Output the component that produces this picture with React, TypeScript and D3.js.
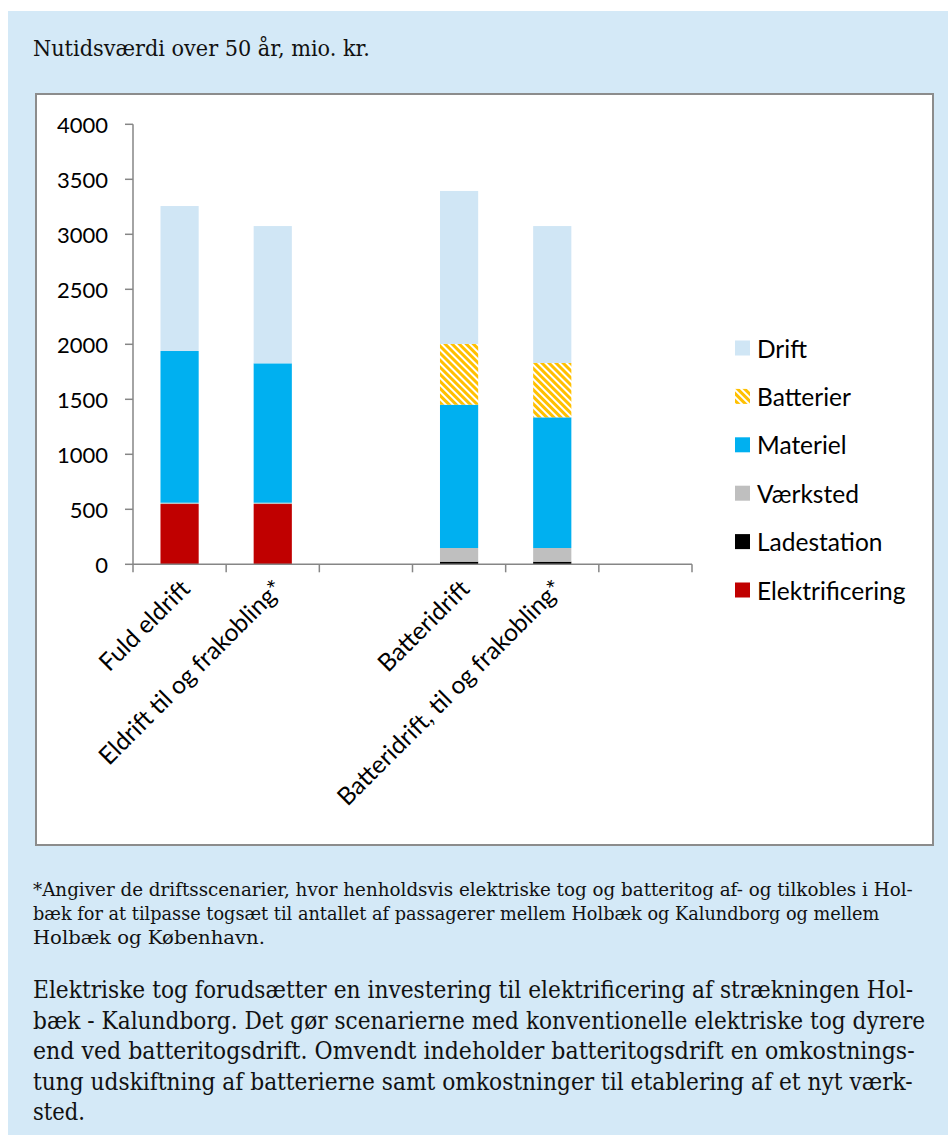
import { useLayoutEffect, useRef, useState } from 'react';
import * as d3 from 'd3';

const categories = [
  'Fuld eldrift',
  'Eldrift til og frakobling*',
  '',
  'Batteridrift',
  'Batteridrift, til og frakobling*',
  '',
];

// stack order, bottom to top
const seriesNames = ['Elektrificering', 'Ladestation', 'Værksted', 'Materiel', 'Batterier', 'Drift'];

const elektrificering = [548, 548, 0, 0, 0, 0];
const ladestation = [0, 0, 0, 24, 24, 0];
const vaerksted = [12, 12, 0, 124, 124, 0];
const materiel = [1379, 1267, 0, 1303, 1188, 0];
const batterier = [0, 0, 0, 552, 494, 0];
const drift = [1318, 1248, 0, 1391, 1245, 0];

const yTicks = [0, 500, 1000, 1500, 2000, 2500, 3000, 3500, 4000];

const title = 'Nutidsværdi over 50 år, mio. kr.';
const footnoteLines = [
  '*Angiver de driftsscenarier, hvor henholdsvis elektriske tog og batteritog af- og tilkobles i Hol-',
  'bæk for at tilpasse togsæt til antallet af passagerer mellem Holbæk og Kalundborg og mellem',
  'Holbæk og København.',
];
const bodyLines = [
  'Elektriske tog forudsætter en investering til elektrificering af strækningen Hol-',
  'bæk - Kalundborg. Det gør scenarierne med konventionelle elektriske tog dyrere',
  'end ved batteritogsdrift. Omvendt indeholder batteritogsdrift en omkostnings-',
  'tung udskiftning af batterierne samt omkostninger til etablering af et nyt værk-',
  'sted.',
];

const W = 948;
const H = 1138;
const BG = '#D4E9F7';
const AXIS = '#868686';
const LABEL_FONT = "Lato, 'Open Sans', sans-serif";
const SERIF = "'DejaVu Serif', 'Liberation Serif', serif";

const colors: Record<string, string> = {
  Drift: '#D0E6F5',
  Batterier: 'url(#hatch)',
  Materiel: '#00B0F0',
  Værksted: '#BFBFBF',
  Ladestation: '#000000',
  Elektrificering: '#C00000',
};

// target widths of the text lines (px), to mimic the condensed print face
const titleWidth = 337;
const footnoteWidths = [880, 846, 232];
const bodyWidths = [880, 892, 882, 880, 52];

// serif text squeezed horizontally to a measured width
function FitText({
  x,
  y,
  width,
  fontSize,
  children,
}: {
  x: number;
  y: number;
  width: number;
  fontSize: number;
  children: string;
}) {
  const ref = useRef<SVGTextElement>(null);
  const [sx, setSx] = useState(0.85);

  useLayoutEffect(() => {
    if (!ref.current) return;
    const len = ref.current.getComputedTextLength();
    if (len > 0) setSx(width / len);
  }, [width, children, fontSize]);

  return (
    <text
      ref={ref}
      transform={`translate(${x},${y}) scale(${sx},1)`}
      fontFamily={SERIF}
      fontSize={fontSize}
      fill="#111"
    >
      {children}
    </text>
  );
}

export default function App() {
  const keys = categories.map((_, i) => String(i));
  const values: Record<string, number[]> = {
    Elektrificering: elektrificering,
    Ladestation: ladestation,
    Værksted: vaerksted,
    Materiel: materiel,
    Batterier: batterier,
    Drift: drift,
  };
  const rows = keys.map((k, i) => {
    const row: Record<string, number | string> = { key: k };
    seriesNames.forEach((s) => (row[s] = values[s][i]));
    return row;
  });
  const stacked = d3.stack<Record<string, number | string>>().keys(seriesNames)(rows as any);

  const plot = { left: 133, right: 692, top: 124.3, bottom: 564.3 };

  const x = d3
    .scaleBand<string>()
    .domain(keys)
    .range([plot.left, plot.right])
    .paddingInner(0.59)
    .paddingOuter(0.295);
  const xTick = d3.scaleBand<string>().domain(keys).range([plot.left, plot.right]).padding(0);
  const y = d3.scaleLinear().domain([0, 4000]).range([plot.bottom, plot.top]);

  const legendOrder = [...seriesNames].reverse();

  return (
    <div style={{ position: 'absolute', left: 0, top: 0 }}>
      <svg width={W} height={H} viewBox={`0 0 ${W} ${H}`} style={{ display: 'block' }}>
        <defs>
          <pattern
            id="hatch"
            width={5}
            height={5}
            patternUnits="userSpaceOnUse"
            patternTransform="rotate(-45)"
          >
            <rect width={5} height={5} fill="#FFFFFF" />
            <rect width={3} height={5} fill="#FFC000" />
          </pattern>
        </defs>

        <rect x={0} y={0} width={W} height={H} fill="#FFFFFF" />
        <rect x={8} y={11} width={W - 8} height={1124} fill={BG} />

        <FitText x={33} y={56} width={titleWidth} fontSize={22}>
          {title}
        </FitText>

        {/* chart frame */}
        <rect x={36} y={94} width={897} height={751} fill="#FFFFFF" stroke="#8C8C8C" strokeWidth={2} />

        {/* bars */}
        {stacked.map((layer) => (
          <g key={layer.key} fill={colors[layer.key]}>
            {layer.map((d, i) => {
              const h = y(d[0]) - y(d[1]);
              if (h <= 0) return null;
              return (
                <rect
                  key={i}
                  x={x(keys[i])}
                  y={y(d[1])}
                  width={x.bandwidth()}
                  height={h}
                />
              );
            })}
          </g>
        ))}

        {/* y axis */}
        <line x1={plot.left} x2={plot.left} y1={y(0)} y2={y(4000)} stroke={AXIS} strokeWidth={1.5} />
        {yTicks.map((t) => (
          <g key={t}>
            <line x1={plot.left - 8} x2={plot.left} y1={y(t)} y2={y(t)} stroke={AXIS} strokeWidth={1.5} />
            <text
              x={108}
              y={y(t)}
              textAnchor="end"
              dominantBaseline="central"
              fontFamily={LABEL_FONT}
              fontSize={22}
              fill="#000"
            >
              {t}
            </text>
          </g>
        ))}

        {/* x axis */}
        <line x1={plot.left} x2={plot.right} y1={y(0)} y2={y(0)} stroke={AXIS} strokeWidth={1.5} />
        {[...keys.map((k) => xTick(k) as number), plot.right].map((tx, i) => (
          <line key={i} x1={tx} x2={tx} y1={y(0)} y2={y(0) + 8} stroke={AXIS} strokeWidth={1.5} />
        ))}
        {categories.map((c, i) => {
          if (!c) return null;
          const cx = (xTick(keys[i]) as number) + xTick.bandwidth() / 2 + 12;
          const cy = y(0) + 26;
          return (
            <text
              key={i}
              transform={`translate(${cx},${cy}) rotate(-45)`}
              textAnchor="end"
              fontFamily={LABEL_FONT}
              fontSize={24.5}
              fill="#000"
            >
              {c}
            </text>
          );
        })}

        {/* legend */}
        {legendOrder.map((name, i) => {
          const ly = 348 + i * 48.4;
          return (
            <g key={name}>
              <rect x={735} y={ly - 7.5} width={15} height={15} fill={colors[name]} />
              <text
                x={757}
                y={ly}
                dominantBaseline="central"
                fontFamily={LABEL_FONT}
                fontSize={24.5}
                fill="#000"
              >
                {name}
              </text>
            </g>
          );
        })}

        {/* footnote */}
        {footnoteLines.map((line, i) => (
          <FitText key={i} x={33} y={896 + i * 24} width={footnoteWidths[i]} fontSize={18.5}>
            {line}
          </FitText>
        ))}

        {/* body text */}
        {bodyLines.map((line, i) => (
          <FitText key={i} x={33} y={998 + i * 30.5} width={bodyWidths[i]} fontSize={23.5}>
            {line}
          </FitText>
        ))}
      </svg>
    </div>
  );
}
